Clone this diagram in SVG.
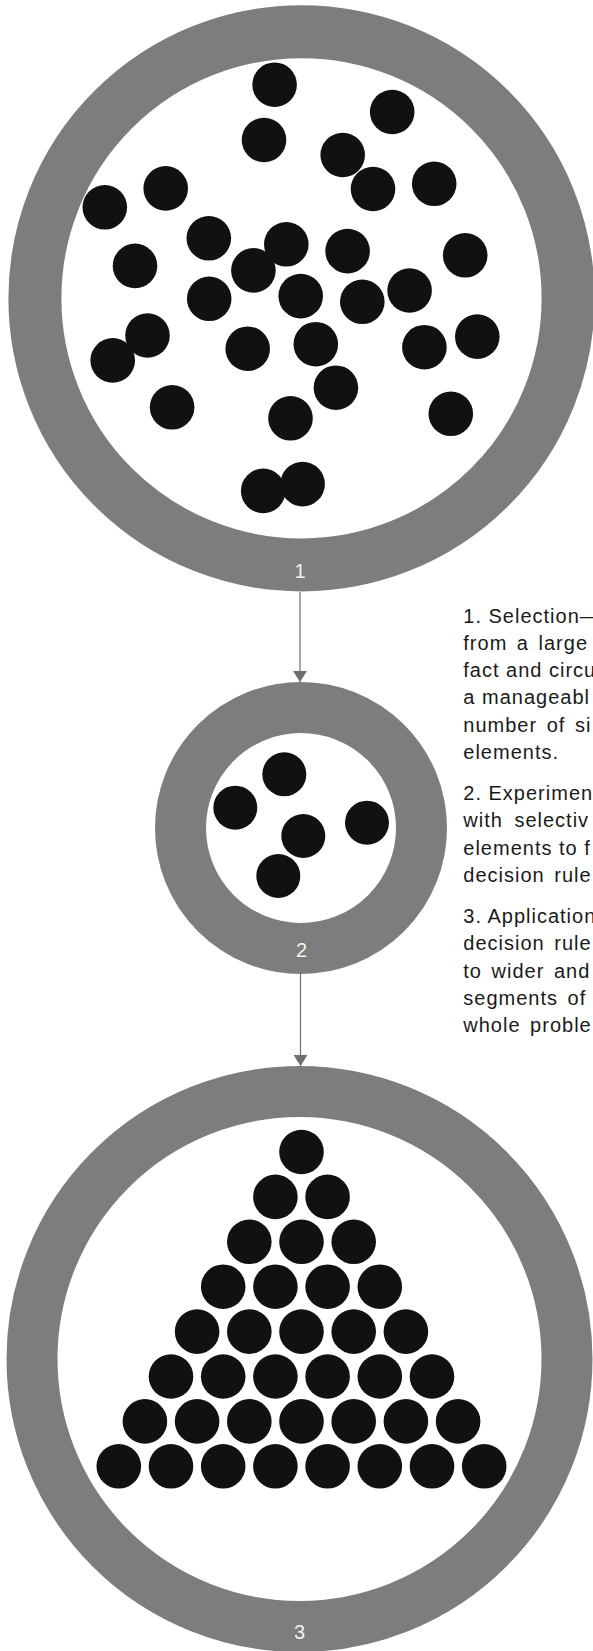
<svg xmlns="http://www.w3.org/2000/svg" width="593" height="1651" viewBox="0 0 593 1651">
<style>
.ring{fill:none;stroke:#7d7d7d}
.dot{fill:#111}
.lbl{font-family:"Liberation Sans",Arial,sans-serif;font-size:20px;fill:#f2f2f2;text-anchor:middle}
.txt{font-family:"Liberation Sans",Arial,sans-serif;font-size:20px;fill:#1a1a1a;letter-spacing:1px}
.conn{stroke:#6e6e6e;stroke-width:1.2;fill:none}
</style>
<defs>
<marker id="arr" viewBox="0 0 11 14" refX="11" refY="7" markerWidth="11" markerHeight="14" markerUnits="userSpaceOnUse" orient="auto">
<path d="M0,0 L11,7 L0,14 Z" fill="#6e6e6e"/>
</marker>
</defs>
<rect width="593" height="1651" fill="#fff"/>

<g id="circle1">
<circle class="ring" cx="301.5" cy="298.3" r="266.6" stroke-width="53"/>
<g class="dot">
<circle cx="274.6" cy="84.7" r="22.3"/>
<circle cx="392.2" cy="112" r="22.3"/>
<circle cx="264" cy="140" r="22.3"/>
<circle cx="342.7" cy="155" r="22.3"/>
<circle cx="373" cy="189" r="22.3"/>
<circle cx="434.2" cy="183.8" r="22.3"/>
<circle cx="165.7" cy="188.4" r="22.3"/>
<circle cx="104.8" cy="207.3" r="22.3"/>
<circle cx="208.8" cy="238.3" r="22.3"/>
<circle cx="286.3" cy="244.3" r="22.3"/>
<circle cx="347.6" cy="251.1" r="22.3"/>
<circle cx="465.2" cy="255.3" r="22.3"/>
<circle cx="135" cy="265.9" r="22.3"/>
<circle cx="253.4" cy="270.4" r="22.3"/>
<circle cx="209.2" cy="298.8" r="22.3"/>
<circle cx="300.7" cy="296.1" r="22.3"/>
<circle cx="362.3" cy="301.8" r="22.3"/>
<circle cx="409.6" cy="290.5" r="22.3"/>
<circle cx="147.5" cy="335.5" r="22.3"/>
<circle cx="112.7" cy="360.4" r="22.3"/>
<circle cx="247.7" cy="348.7" r="22.3"/>
<circle cx="315.8" cy="344.2" r="22.3"/>
<circle cx="424.4" cy="347.2" r="22.3"/>
<circle cx="477.3" cy="336.6" r="22.3"/>
<circle cx="335.9" cy="387.7" r="22.3"/>
<circle cx="172.1" cy="407.3" r="22.3"/>
<circle cx="290.5" cy="418.3" r="22.3"/>
<circle cx="450.8" cy="413.8" r="22.3"/>
<circle cx="263.2" cy="490.9" r="22.3"/>
<circle cx="302.6" cy="484.1" r="22.3"/>
</g>
<text class="lbl" x="300" y="578">1</text>
</g>

<g id="circle2">
<circle class="ring" cx="301" cy="828" r="120.5" stroke-width="51"/>
<g class="dot">
<circle cx="284.3" cy="774.3" r="22"/>
<circle cx="235.3" cy="807.7" r="22"/>
<circle cx="303.3" cy="836" r="22"/>
<circle cx="367" cy="822.7" r="22"/>
<circle cx="278.3" cy="876" r="22"/>
</g>
<text class="lbl" x="301.5" y="957">2</text>
</g>

<g id="circle3">
<circle class="ring" cx="299.5" cy="1359" r="267.5" stroke-width="51"/>
<g class="dot" transform="translate(301.5,1152)">
<circle cx="0" cy="0" r="22.3"/>
<circle cx="-26.1" cy="44.9" r="22.3"/><circle cx="26.1" cy="44.9" r="22.3"/>
<circle cx="-52.2" cy="89.8" r="22.3"/><circle cx="0" cy="89.8" r="22.3"/><circle cx="52.2" cy="89.8" r="22.3"/>
<circle cx="-78.3" cy="134.7" r="22.3"/><circle cx="-26.1" cy="134.7" r="22.3"/><circle cx="26.1" cy="134.7" r="22.3"/><circle cx="78.3" cy="134.7" r="22.3"/>
<circle cx="-104.4" cy="179.6" r="22.3"/><circle cx="-52.2" cy="179.6" r="22.3"/><circle cx="0" cy="179.6" r="22.3"/><circle cx="52.2" cy="179.6" r="22.3"/><circle cx="104.4" cy="179.6" r="22.3"/>
<circle cx="-130.5" cy="224.5" r="22.3"/><circle cx="-78.3" cy="224.5" r="22.3"/><circle cx="-26.1" cy="224.5" r="22.3"/><circle cx="26.1" cy="224.5" r="22.3"/><circle cx="78.3" cy="224.5" r="22.3"/><circle cx="130.5" cy="224.5" r="22.3"/>
<circle cx="-156.6" cy="269.4" r="22.3"/><circle cx="-104.4" cy="269.4" r="22.3"/><circle cx="-52.2" cy="269.4" r="22.3"/><circle cx="0" cy="269.4" r="22.3"/><circle cx="52.2" cy="269.4" r="22.3"/><circle cx="104.4" cy="269.4" r="22.3"/><circle cx="156.6" cy="269.4" r="22.3"/>
<circle cx="-182.7" cy="314.3" r="22.3"/><circle cx="-130.5" cy="314.3" r="22.3"/><circle cx="-78.3" cy="314.3" r="22.3"/><circle cx="-26.1" cy="314.3" r="22.3"/><circle cx="26.1" cy="314.3" r="22.3"/><circle cx="78.3" cy="314.3" r="22.3"/><circle cx="130.5" cy="314.3" r="22.3"/><circle cx="182.7" cy="314.3" r="22.3"/>
</g>
<text class="lbl" x="299.5" y="1639">3</text>
</g>

<g id="connectors">
<line class="conn" x1="300" y1="592" x2="300" y2="682" marker-end="url(#arr)"/>
<line class="conn" x1="300.5" y1="973" x2="300.5" y2="1066" marker-end="url(#arr)"/>
</g>

<g id="caption">
<text class="txt" x="463.3" y="622.5">1. Selection—</text>
<text class="txt" x="463.3" y="649.8" word-spacing="3">from a large</text>
<text class="txt" x="463.3" y="677.1">fact and circu</text>
<text class="txt" x="463.3" y="704.4">a manageabl</text>
<text class="txt" x="463.3" y="731.7" word-spacing="3">number of si</text>
<text class="txt" x="463.3" y="759">elements.</text>
<text class="txt" x="463.3" y="800">2. Experimen</text>
<text class="txt" x="463.3" y="827.3" word-spacing="5">with selectiv</text>
<text class="txt" x="463.3" y="854.6">elements to f</text>
<text class="txt" x="463.3" y="881.9" word-spacing="3">decision rule</text>
<text class="txt" x="463.3" y="923">3. Application</text>
<text class="txt" x="463.3" y="950.3" word-spacing="3">decision rule</text>
<text class="txt" x="463.3" y="977.6" word-spacing="3">to wider and</text>
<text class="txt" x="463.3" y="1004.9" word-spacing="3">segments of</text>
<text class="txt" x="463.3" y="1032.2" word-spacing="3">whole proble</text>
</g>
</svg>
